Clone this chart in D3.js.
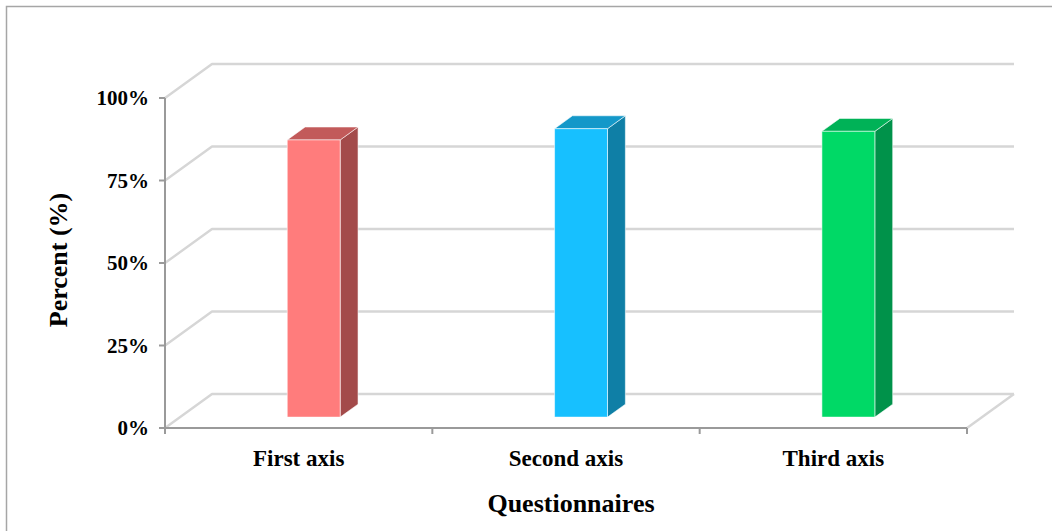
<!DOCTYPE html>
<html>
<head>
<meta charset="utf-8">
<script src="https://cdn.jsdelivr.net/npm/d3@7"></script>
<style>
  html, body { margin: 0; padding: 0; background: #fff; }
  svg { display: block; }
  text { font-family: "Liberation Serif", "Times New Roman", serif; font-weight: bold; fill: #000; }
</style>
</head>
<body>
<svg id="chart" width="1052" height="531"></svg>
<script>
// Survey results by questionnaire axis
const categories = ["First axis", "Second axis", "Third axis"];
const percentValues = [0.84, 0.874, 0.866];
const tickValues = [0, 0.25, 0.5, 0.75, 1];
const tickLabels = ["0%", "25%", "50%", "75%", "100%"];
const frontColors = ["#ff7c7c", "#17c0ff", "#00d966"];
const sideColors = ["#a34a4a", "#0f7fa6", "#00924a"];
const topColors = ["#c25a5a", "#1498c9", "#00b257"];

const svg = d3.select("#chart");

// Front plane of the plot area
const plotLeft = 165, plotRight = 967, plotBottom = 428, plotTop = 98;
// Oblique depth offset of the back wall
const depthX = 47, depthY = -34;

const x = d3.scaleBand().domain(categories).range([plotLeft, plotRight]);
const y = d3.scaleLinear().domain([0, 1]).range([plotBottom, plotTop]);

// Project a point at depth fraction f (0 = front, 1 = back)
const proj = (px, py, f) => [px + depthX * f, py + depthY * f];

// Chart frame
svg.append("rect")
  .attr("x", 6.5).attr("y", 6.5)
  .attr("width", 1060).attr("height", 540)
  .attr("fill", "none").attr("stroke", "#a6a6a6").attr("stroke-width", 1.5);

const grid = svg.append("g")
  .attr("fill", "none")
  .attr("stroke", "#d6d6d6")
  .attr("stroke-width", 2.4)
  .attr("stroke-linejoin", "round");

// Gridlines along left wall and back wall
tickValues.forEach(t => {
  const p0 = [plotLeft, y(t)];
  const p1 = proj(plotLeft, y(t), 1);
  const p2 = proj(plotRight, y(t), 1);
  grid.append("path").attr("d", d3.line()([p0, p1, p2]));
});
// Right edge of the floor
grid.append("path").attr("d", d3.line()([proj(plotRight, y(0), 1), [plotRight, y(0)]]));

// Bars (oblique 3-D boxes)
const f0 = 0.32, f1 = 0.70;
const barW = x.bandwidth() * 0.198;
const bars = svg.append("g");

categories.forEach((c, i) => {
  const cx = x(c) + x.bandwidth() / 2;
  const xl = cx - barW / 2, xr = cx + barW / 2;
  const yb = y(0), yt = y(percentValues[i]);
  const a = proj(xl, yt, f0), b = proj(xr, yt, f0),
        cB = proj(xr, yb, f0), d = proj(xl, yb, f0);
  const bT = proj(xr, yt, f1), aT = proj(xl, yt, f1), cT = proj(xr, yb, f1);
  const poly = pts => "M" + pts.map(p => p.join(",")).join("L") + "Z";
  const g = bars.append("g")
    .attr("stroke", "rgba(255,255,255,0.55)")
    .attr("stroke-width", 1)
    .attr("stroke-linejoin", "round");
  g.append("path").attr("d", poly([b, bT, cT, cB])).attr("fill", sideColors[i]);
  g.append("path").attr("d", poly([a, aT, bT, b])).attr("fill", topColors[i]);
  g.append("path").attr("d", poly([a, b, cB, d])).attr("fill", frontColors[i]);
});

// Axes
const axisG = svg.append("g")
  .attr("stroke", "#9a9a9a").attr("stroke-width", 2).attr("fill", "none");
axisG.append("line").attr("x1", plotLeft).attr("x2", plotLeft).attr("y1", y(1)).attr("y2", y(0));
axisG.append("line").attr("x1", plotLeft).attr("x2", plotRight).attr("y1", y(0)).attr("y2", y(0));
tickValues.forEach(t => {
  axisG.append("line").attr("x1", plotLeft - 6).attr("x2", plotLeft).attr("y1", y(t)).attr("y2", y(t));
});
const xTicks = categories.map(c => x(c)).concat([plotRight]);
xTicks.forEach(tx => {
  axisG.append("line").attr("x1", tx).attr("x2", tx).attr("y1", y(0)).attr("y2", y(0) + 6);
});

// Y tick labels
svg.append("g").selectAll("text")
  .data(tickValues)
  .join("text")
  .attr("x", 149)
  .attr("y", d => y(d) + 7)
  .attr("text-anchor", "end")
  .attr("font-size", 21)
  .text((d, i) => tickLabels[i]);

// Category labels
svg.append("g").selectAll("text")
  .data(categories)
  .join("text")
  .attr("x", d => x(d) + x.bandwidth() / 2)
  .attr("y", 466)
  .attr("text-anchor", "middle")
  .attr("font-size", 23)
  .text(d => d);

// Axis titles
svg.append("text")
  .attr("x", 571).attr("y", 512)
  .attr("text-anchor", "middle")
  .attr("font-size", 26)
  .text("Questionnaires");

svg.append("text")
  .attr("transform", "translate(67,260) rotate(-90)")
  .attr("text-anchor", "middle")
  .attr("font-size", 26)
  .text("Percent (%)");
</script>
</body>
</html>
